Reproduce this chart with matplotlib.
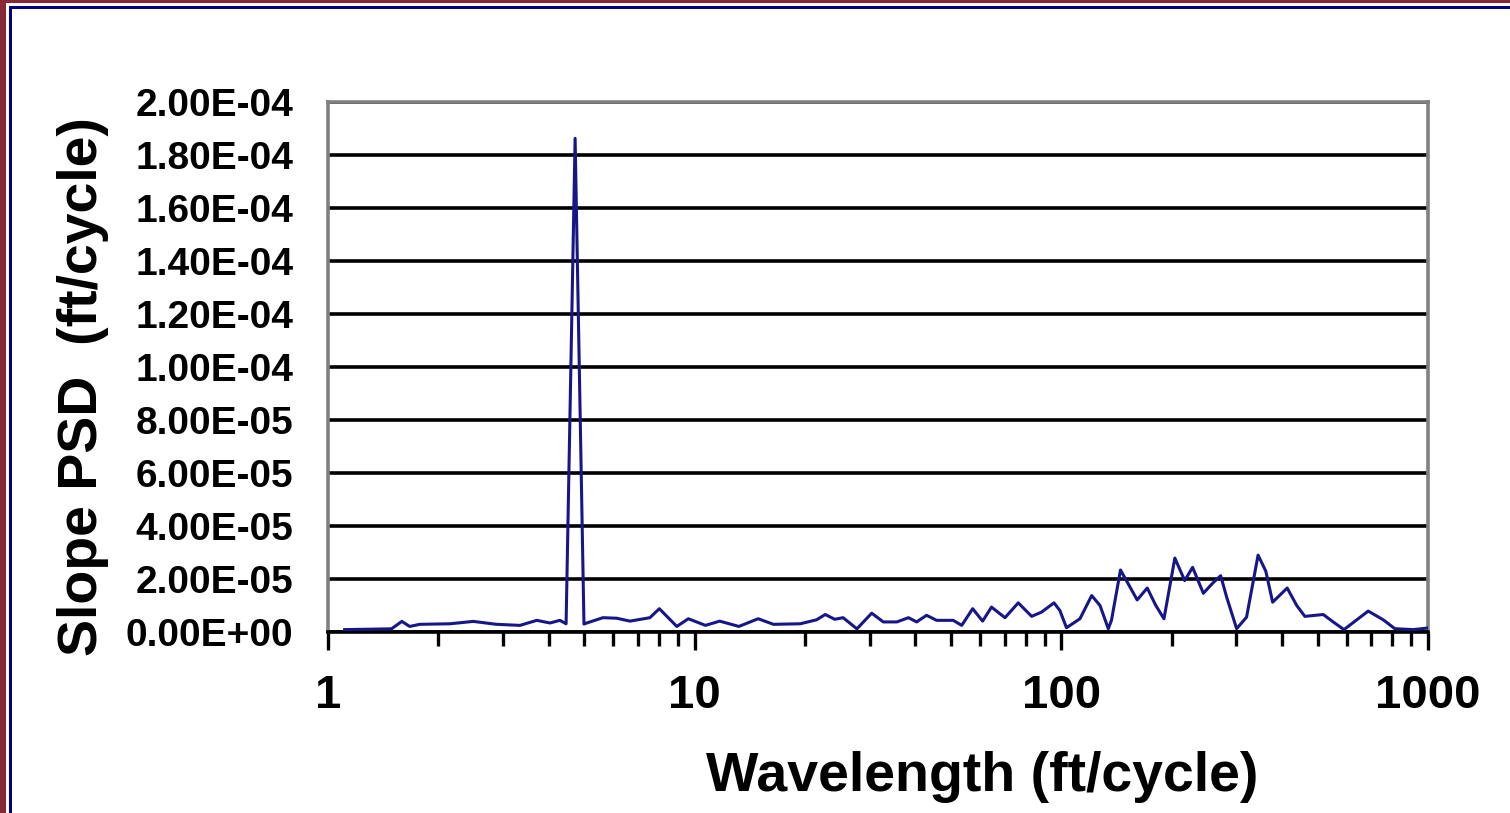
import numpy as np
import matplotlib
matplotlib.use("Agg")
import matplotlib.pyplot as plt
import matplotlib.ticker as mticker
from matplotlib.patches import Rectangle

# wavelength (ft/cycle) and slope PSD (ft/cycle)
wavelength = [1.11, 1.49, 1.59, 1.67, 1.78, 2.15, 2.49, 2.88, 3.34, 3.71,
              4.03, 4.29, 4.46, 4.72, 4.99, 5.08, 5.62, 6.13, 6.66, 7.55,
              8.01, 8.94, 9.61, 10.7, 11.7, 13.2, 14.9, 16.4, 19.4, 21.5,
              22.7, 24.1, 25.4, 27.7, 30.4, 32.7, 35.6, 38.3, 40.3, 42.9,
              45.7, 50.7, 53.5, 57.3, 61.0, 64.5, 70.2, 76.3, 83.0, 88.3,
              95.5, 99.1, 103.3, 112.4, 121, 127.5, 134.3, 137, 145, 152.3,
              161, 171.5, 181, 190.5, 204, 217, 228, 244, 258.5, 272,
              282.5, 300.7, 320, 344, 361, 377, 413, 438.5, 461.5, 518,
              552, 590, 687, 755, 812, 912, 1012]
psd_e5 = [0.09, 0.12, 0.40, 0.21, 0.29, 0.31, 0.40, 0.29, 0.25, 0.44,
          0.34, 0.44, 0.31, 18.63, 0.30, 0.34, 0.54, 0.52, 0.41, 0.54,
          0.88, 0.21, 0.50, 0.25, 0.41, 0.21, 0.50, 0.29, 0.31, 0.46,
          0.66, 0.48, 0.54, 0.12, 0.71, 0.38, 0.38, 0.54, 0.38, 0.63,
          0.44, 0.44, 0.25, 0.88, 0.41, 0.94, 0.54, 1.10, 0.59, 0.75,
          1.10, 0.81, 0.16, 0.50, 1.375, 1.00, 0.125, 0.44, 2.34, 1.81,
          1.21, 1.66, 1.00, 0.50, 2.79, 1.94, 2.44, 1.46, 1.84, 2.125,
          1.31, 0.125, 0.56, 2.90, 2.30, 1.125, 1.66, 1.00, 0.59, 0.66,
          0.375, 0.09, 0.79, 0.46, 0.125, 0.09, 0.16]
psd = np.array(psd_e5) * 1e-5

y_ticks = np.arange(0, 2.01e-4, 2e-5)

W, H = 1510, 813
plt.rcParams['font.family'] = ['Liberation Sans', 'DejaVu Sans']
fig = plt.figure(figsize=(W / 100, H / 100), dpi=100)

ax = fig.add_axes([328 / W, 1 - 632 / H, 1100 / W, 530 / H])
ax.plot(wavelength, psd, color='#161688', lw=2.2, zorder=3,
        solid_joinstyle='round')

ax.set_xscale('log')
ax.set_xlim(1, 1000)
ax.set_ylim(0, 2e-4)
ax.set_yticks(y_ticks)
ax.yaxis.set_major_formatter(mticker.FuncFormatter(lambda v, p: f"{v:.2E}"))
ax.xaxis.set_major_formatter(mticker.FuncFormatter(lambda v, p: f"{v:g}"))
ax.grid(axis='y', color='black', lw=2.6, zorder=1)
ax.set_axisbelow(True)

for s in ['left', 'top', 'right']:
    ax.spines[s].set_color('#808080')
    ax.spines[s].set_linewidth(2.6)
ax.spines['bottom'].set_color('black')
ax.spines['bottom'].set_linewidth(2.6)

ax.tick_params(axis='y', length=0, pad=25)
ax.tick_params(axis='x', which='major', length=13, width=2.4, direction='out',
               pad=17)
ax.tick_params(axis='x', which='minor', length=10, width=2.4, direction='out')
for lab in ax.get_yticklabels():
    lab.set_fontsize(28)
    lab.set_fontweight('bold')
for lab in ax.get_xticklabels():
    lab.set_fontsize(34)
    lab.set_fontweight('bold')

fig.text(982 / W, 1 - 777 / H, 'Wavelength (ft/cycle)', ha='center', va='center',
         fontsize=40, fontweight='bold')
fig.text(83 / W, 1 - 387 / H, 'Slope PSD  (ft/cycle)', ha='center', va='center',
         rotation=90, fontsize=40, fontweight='bold')

# frame around the picture
maroon = '#862835'
navy = '#000080'
fig.add_artist(Rectangle((0, 0), 6 / W, 1, transform=fig.transFigure,
                         color=maroon, lw=0))
fig.add_artist(Rectangle((0, 1 - 3 / H), 1, 3 / H, transform=fig.transFigure,
                         color=maroon, lw=0))
fig.add_artist(Rectangle((9 / W, 0), 3 / W, 1 - 6 / H, transform=fig.transFigure,
                         color=navy, lw=0))
fig.add_artist(Rectangle((9 / W, 1 - 9 / H), 1, 3 / H, transform=fig.transFigure,
                         color=navy, lw=0))

fig.savefig('out.png', dpi=100)
